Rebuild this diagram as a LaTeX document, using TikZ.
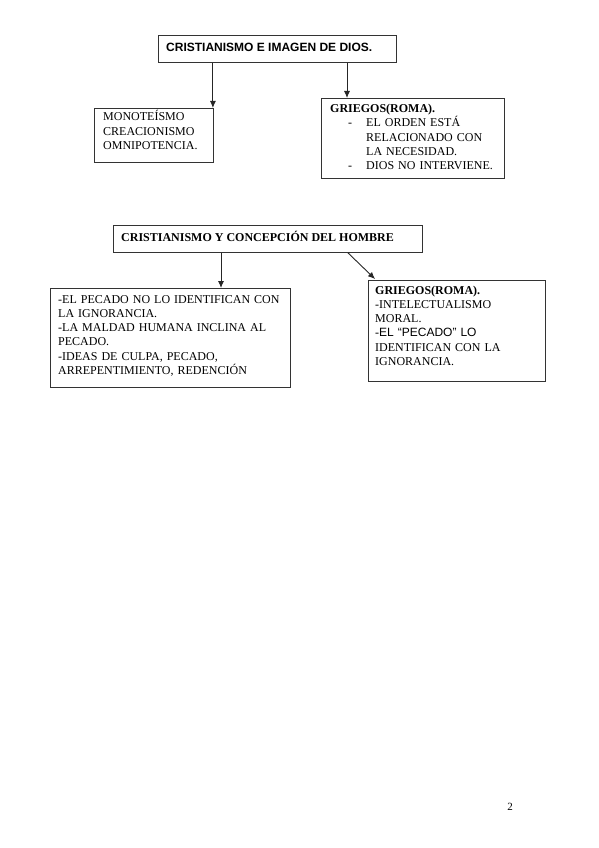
\documentclass[tikz,border=0pt]{standalone}
\usepackage{fontspec}
\setmainfont{Liberation Serif}
\newfontfamily\arialfont{Liberation Sans}
\usetikzlibrary{arrows.meta}
\tikzset{
  box/.style={draw=black!80, line width=0.9pt, inner sep=0pt, anchor=north west, fill=white},
  txt/.style={anchor=base west, inner sep=0pt, text width=#1, align=left,
              font=\fontsize{12}{14.3}\selectfont},
  txt/.default=240pt,
  arr/.style={draw=black!85, line width=0.9pt, -{Latex[length=7pt,width=6pt]}}
}
\begin{document}
\begin{tikzpicture}[x=1pt,y=-1pt]
\useasboundingbox (0,0) rectangle (599,848);
% boxes
\node[box, minimum width=238pt, minimum height=27pt] (b1) at (158,35) {};
\node[box, minimum width=119pt, minimum height=54pt] (b2) at (94,108) {};
\node[box, minimum width=183pt, minimum height=80pt] (b3) at (321,98) {};
\node[box, minimum width=309pt, minimum height=27pt] (b4) at (113,225) {};
\node[box, minimum width=240pt, minimum height=99pt] (b5) at (50,288) {};
\node[box, minimum width=177pt, minimum height=101pt] (b6) at (368,280) {};
% texts
\node[anchor=base west, inner sep=0pt, font=\arialfont\bfseries\fontsize{12}{14}\selectfont] (t1) at (166,52) {CRISTIANISMO E IMAGEN DE DIOS.};
\node[txt=115pt] (t2) at (103,121) {MONOTEÍSMO\\CREACIONISMO\\OMNIPOTENCIA.};
\node[txt=175pt] (t3) at (330,112.5) {\textbf{GRIEGOS(ROMA).}\\
\hspace*{18pt}\makebox[18pt][l]{-}EL ORDEN ESTÁ\\
\hspace*{36pt}RELACIONADO CON\\
\hspace*{36pt}LA NECESIDAD.\\
\hspace*{18pt}\makebox[18pt][l]{-}DIOS NO INTERVIENE.};
\node[anchor=base west, inner sep=0pt, font=\bfseries\fontsize{12}{14}\selectfont] (t4) at (121,241) {CRISTIANISMO Y CONCEPCIÓN DEL HOMBRE};
\node[txt=235pt] (t5) at (58,303) {-EL PECADO NO LO IDENTIFICAN CON\\
LA IGNORANCIA.\\
-LA MALDAD HUMANA INCLINA AL\\
PECADO.\\
-IDEAS DE CULPA, PECADO,\\
ARREPENTIMIENTO, REDENCIÓN};
\node[txt=170pt] (t6) at (375,294) {\textbf{GRIEGOS(ROMA).}\\
-INTELECTUALISMO\\
MORAL.\\
-{\arialfont EL “PECADO” LO}\\
IDENTIFICAN CON LA\\
IGNORANCIA.};
\node[anchor=base, inner sep=0pt, font=\fontsize{11}{13}\selectfont] (pg) at (510,810) {2};
% connectors
\draw[arr] ([xshift=-1pt]b2.north east |- b1.south) -- ([xshift=-1pt]b2.north east);
\draw[arr] ([xshift=26pt]b3.north west |- b1.south) -- ([xshift=26pt]b3.north west);
\draw[arr] ([xshift=108pt]b4.south west) -- ([xshift=108pt]b4.south west |- b5.north);
\draw[arr] ([xshift=235pt]b4.south west) -- ([xshift=7pt,yshift=1pt]b6.north west);
\end{tikzpicture}
\end{document}
